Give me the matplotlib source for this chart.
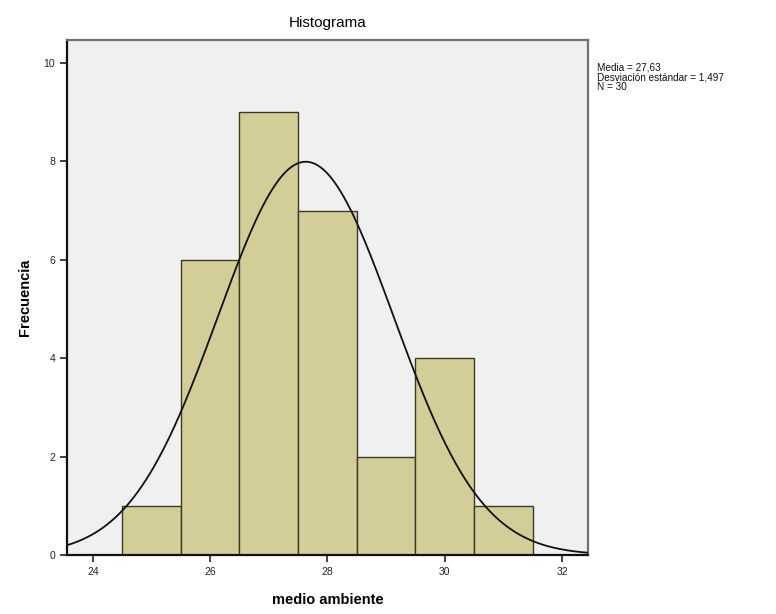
import numpy as np
import matplotlib
matplotlib.use("Agg")
import matplotlib.pyplot as plt

plt.rcParams['font.family'] = ['Liberation Sans', 'DejaVu Sans']

# histogram data (bins of width 1, centred on the integers)
bin_centers = [25, 26, 27, 28, 29, 30, 31]
counts = [1, 6, 9, 7, 2, 4, 1]
bin_width = 1.0

# summary shown next to the chart
media = 27.63
desv = 1.497
n = 30

x_ticks = [24, 26, 28, 30, 32]
y_ticks = [0, 2, 4, 6, 8, 10]

fig = plt.figure(figsize=(7.76, 6.14), dpi=100)
ax = fig.add_axes([0.0863, 0.0961, 0.6714, 0.8388])
ax.set_facecolor('#f0f0f0')

ax.bar(bin_centers, counts, width=bin_width, color='#d3ce97',
       edgecolor='#3a3a26', linewidth=1.0, zorder=2)

# normal curve scaled to the counts
xmin, xmax = 23.56, 32.44
xs = np.linspace(xmin, xmax, 400)
ys = n * bin_width / (desv * np.sqrt(2 * np.pi)) * np.exp(-0.5 * ((xs - media) / desv) ** 2)
ax.plot(xs, ys, color='#111111', linewidth=1.3, zorder=3)

ax.set_xlim(xmin, xmax)
ax.set_ylim(0, 10.47)
ax.set_xticks(x_ticks)
ax.set_yticks(y_ticks)
ax.tick_params(axis='both', direction='out', length=5, width=1.2,
               labelsize=7.5, colors='#222222')

for side in ['left', 'bottom']:
    ax.spines[side].set_color('#111111')
    ax.spines[side].set_linewidth(1.6)
for side in ['top', 'right']:
    ax.spines[side].set_color('#707070')
    ax.spines[side].set_linewidth(1.6)

ax.set_title('Histograma', fontsize=11, pad=9)
ax.set_xlabel('medio ambiente', fontsize=10.5, fontweight='bold', labelpad=12)
ax.set_ylabel('Frecuencia', fontsize=10.5, fontweight='bold', labelpad=8)

# summary text at the right
info = 'Media = %s\nDesviación estándar = %s\nN = %d' % (
    ('%.2f' % media).replace('.', ','), ('%.3f' % desv).replace('.', ','), n)
fig.text(597 / 776, 1 - 62 / 614, info, fontsize=7.2, va='top', ha='left',
         linespacing=1.0, color='#111111')

fig.savefig('out.png', dpi=100)
